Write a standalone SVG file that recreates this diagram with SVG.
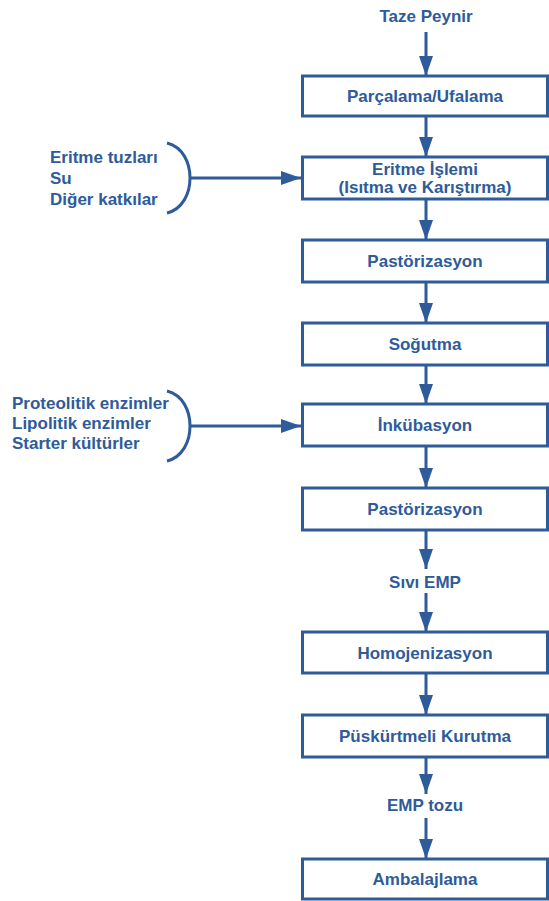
<svg xmlns="http://www.w3.org/2000/svg" width="549" height="901" viewBox="0 0 549 901">
<style>
.box{fill:#fff;stroke:#2E5B9A;stroke-width:3}
.t{font-family:"Liberation Sans",Arial,sans-serif;font-weight:bold;font-size:17px;fill:#2E5B9A}
.c{text-anchor:middle}
.ln{stroke:#2E5B9A;stroke-width:3;fill:none}
</style>
<defs>
<marker id="ah" viewBox="0 0 20 14" refX="20" refY="7" markerWidth="20" markerHeight="14" markerUnits="userSpaceOnUse" orient="auto">
<path d="M0,0 L20,7 L0,14 z" fill="#2E5B9A"/>
</marker>
</defs>
<rect width="549" height="901" fill="#fff"/>
<g id="connectors">
<line class="ln" x1="426" y1="32" x2="426" y2="76" marker-end="url(#ah)"/>
<line class="ln" x1="426" y1="116" x2="426" y2="157" marker-end="url(#ah)"/>
<line class="ln" x1="426" y1="199" x2="426" y2="240" marker-end="url(#ah)"/>
<line class="ln" x1="426" y1="282" x2="426" y2="323" marker-end="url(#ah)"/>
<line class="ln" x1="426" y1="365" x2="426" y2="404" marker-end="url(#ah)"/>
<line class="ln" x1="426" y1="446" x2="426" y2="488" marker-end="url(#ah)"/>
<line class="ln" x1="426" y1="530" x2="426" y2="569" marker-end="url(#ah)"/>
<line class="ln" x1="426" y1="593" x2="426" y2="632" marker-end="url(#ah)"/>
<line class="ln" x1="426" y1="673" x2="426" y2="715" marker-end="url(#ah)"/>
<line class="ln" x1="426" y1="757" x2="426" y2="794" marker-end="url(#ah)"/>
<line class="ln" x1="426" y1="818" x2="426" y2="859" marker-end="url(#ah)"/>
<line class="ln" x1="190" y1="178" x2="301" y2="178" marker-end="url(#ah)"/>
<line class="ln" x1="190" y1="426" x2="301" y2="426" marker-end="url(#ah)"/>
<path class="ln" d="M167,143 C183,147 190,163 190,178 C190,193 183,209 167,213"/>
<path class="ln" d="M167,391 C183,395 190,411 190,426 C190,441 183,457 167,461"/>
</g>
<g id="input"><text class="t c" x="426" y="22">Taze Peynir</text></g>
<g id="n1"><rect class="box" x="302.5" y="76" width="245" height="40"/><text class="t c" x="425" y="102">Parçalama/Ufalama</text></g>
<g id="n2"><rect class="box" x="302.5" y="157" width="245" height="42"/><text class="t c" x="425" y="175">Eritme İşlemi</text><text class="t c" x="425" y="193">(Isıtma ve Karıştırma)</text></g>
<g id="n3"><rect class="box" x="302.5" y="240" width="245" height="42"/><text class="t c" x="425" y="267">Pastörizasyon</text></g>
<g id="n4"><rect class="box" x="302.5" y="323" width="245" height="42"/><text class="t c" x="425" y="350">Soğutma</text></g>
<g id="n5"><rect class="box" x="302.5" y="404" width="245" height="42"/><text class="t c" x="425" y="431">İnkübasyon</text></g>
<g id="n6"><rect class="box" x="302.5" y="488" width="245" height="42"/><text class="t c" x="425" y="515">Pastörizasyon</text></g>
<g id="l1"><text class="t c" x="425" y="588">Sıvı EMP</text></g>
<g id="n7"><rect class="box" x="302.5" y="632" width="245" height="41"/><text class="t c" x="425" y="659">Homojenizasyon</text></g>
<g id="n8"><rect class="box" x="302.5" y="715" width="245" height="42"/><text class="t c" x="425" y="742">Püskürtmeli Kurutma</text></g>
<g id="l2"><text class="t c" x="425" y="811">EMP tozu</text></g>
<g id="n9"><rect class="box" x="302.5" y="859" width="245" height="40"/><text class="t c" x="425" y="885">Ambalajlama</text></g>
<g id="add1"><text class="t" x="50" y="163">Eritme tuzları</text><text class="t" x="50" y="184">Su</text><text class="t" x="50" y="205">Diğer katkılar</text></g>
<g id="add2"><text class="t" x="12" y="409">Proteolitik enzimler</text><text class="t" x="12" y="429">Lipolitik enzimler</text><text class="t" x="12" y="449">Starter kültürler</text></g>
</svg>
